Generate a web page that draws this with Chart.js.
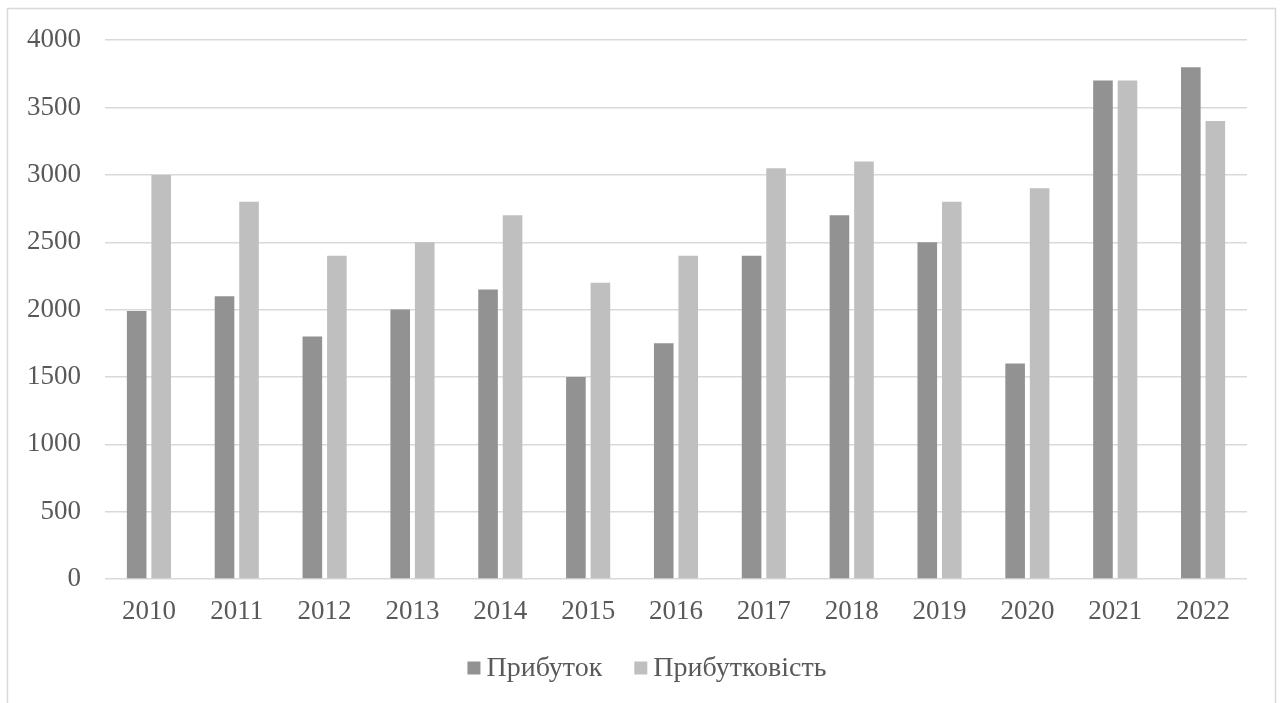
<!DOCTYPE html>
<html>
<head>
<meta charset="utf-8">
<script src="https://cdn.jsdelivr.net/npm/chart.js@4/dist/chart.umd.min.js"></script>
<style>
  html, body { margin: 0; padding: 0; background: #ffffff; }
  #wrap { position: relative; width: 1282px; height: 703px; }
</style>
</head>
<body>
<div id="wrap"><canvas id="chart" width="1282" height="703"></canvas></div>
<script>
// Years on the category axis
const years = ['2010','2011','2012','2013','2014','2015','2016','2017','2018','2019','2020','2021','2022'];
// Series values
const profit =        [1990, 2100, 1800, 2000, 2150, 1500, 1750, 2400, 2700, 2500, 1600, 3700, 3800];
const profitability = [3000, 2800, 2400, 2500, 2700, 2200, 2400, 3050, 3100, 2800, 2900, 3700, 3400];
// Series names
const seriesNames = ['Прибуток', 'Прибутковість'];
const seriesColors = ['#929292', '#bfbfbf'];

const FONT = "'Liberation Serif', 'Times New Roman', serif";
const TEXT = '#595959';

// Outer frame of the chart object
const framePlugin = {
  id: 'frame',
  beforeDraw(chart) {
    const ctx = chart.ctx;
    ctx.save();
    ctx.fillStyle = '#ffffff';
    ctx.fillRect(0, 0, chart.width, chart.height);
    ctx.strokeStyle = '#d9d9d9';
    ctx.lineWidth = 1.5;
    ctx.strokeRect(7.5, 8.5, chart.width - 14, chart.height + 20);
    ctx.restore();
  }
};

// Legend drawn below the axis: small square swatches followed by the series name
const legendPlugin = {
  id: 'bottomLegend',
  afterDraw(chart) {
    const ctx = chart.ctx;
    ctx.save();
    ctx.font = '28px ' + FONT;
    ctx.textBaseline = 'middle';
    const box = 13, gap = 6, itemGap = 32;
    const items = chart.data.datasets.map(ds => ({
      label: ds.label, color: ds.backgroundColor, w: box + gap + ctx.measureText(ds.label).width
    }));
    const total = items.reduce((s, it) => s + it.w, 0) + itemGap * (items.length - 1);
    let x = chart.width / 2 + 6 - total / 2;
    const y = 668;
    items.forEach(it => {
      ctx.fillStyle = it.color;
      ctx.fillRect(x, y - box / 2, box, box);
      ctx.fillStyle = TEXT;
      ctx.textAlign = 'left';
      ctx.fillText(it.label, x + box + gap, y + 1);
      x += it.w + itemGap;
    });
    ctx.restore();
  }
};

new Chart(document.getElementById('chart'), {
  type: 'bar',
  data: {
    labels: years,
    datasets: [
      { label: seriesNames[0], data: profit, backgroundColor: seriesColors[0] },
      { label: seriesNames[1], data: profitability, backgroundColor: seriesColors[1] }
    ]
  },
  options: {
    responsive: false,
    animation: false,
    devicePixelRatio: 1,
    layout: { padding: { left: 0, right: 35, top: 37, bottom: 0 } },
    datasets: {
      bar: { categoryPercentage: 0.558, barPercentage: 0.8 }
    },
    plugins: {
      legend: { display: false },
      tooltip: { enabled: false }
    },
    scales: {
      x: {
        grid: { display: false, drawTicks: false },
        border: { display: false },
        ticks: { color: TEXT, font: { family: FONT, size: 27 }, padding: 17, maxRotation: 0 },
        afterFit(scale) { scale.height = 124; }
      },
      y: {
        min: 0, max: 4000,
        ticks: {
          stepSize: 500, color: TEXT, font: { family: FONT, size: 27 }, padding: 24,
          callback: v => String(v)
        },
        grid: { color: '#d9d9d9', lineWidth: 1.5, drawTicks: false },
        border: { display: false },
        afterFit(scale) { scale.width = 105; }
      }
    }
  },
  plugins: [framePlugin, legendPlugin]
});
</script>
</body>
</html>
